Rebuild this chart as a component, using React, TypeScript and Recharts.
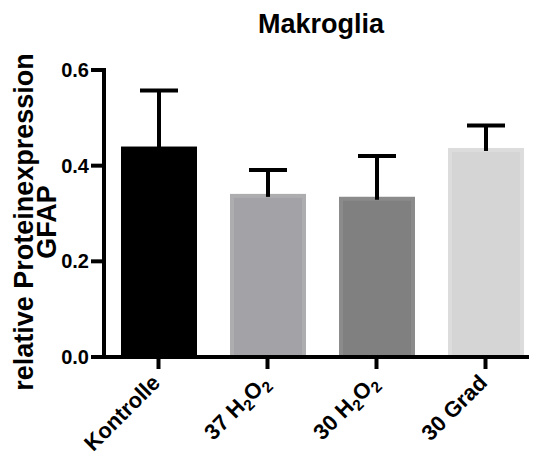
import React from 'react';
import { BarChart, Bar, XAxis, YAxis, Label } from 'recharts';

const FONT = '"Liberation Sans", Arial, Helvetica, sans-serif';

const categories = ['Kontrolle', '37 H₂O₂', '30 H₂O₂', '30 Grad'];
const means = [0.44, 0.341, 0.335, 0.437];
const sem = [0.117, 0.05, 0.085, 0.047];
const yTicks = [0, 0.2, 0.4, 0.6];

const fills = ['#000000', '#a3a3a7', '#808080', '#d5d5d5'];
const edges = ['#000000', '#adadb0', '#8b8b8b', '#dcdcdc'];

const data = categories.map((name, i) => ({ name, mean: means[i], sem: sem[i] }));

const SUBS: { [k: string]: string } = { '₂': '2' };

// splits "37 H₂O₂" into normal / subscript runs
const splitSub = (s: string) => {
  const runs: { t: string; sub: boolean }[] = [];
  for (const ch of s) {
    const sub = ch in SUBS;
    const t = sub ? SUBS[ch] : ch;
    const last = runs[runs.length - 1];
    if (last && last.sub === sub) last.t += t;
    else runs.push({ t, sub });
  }
  return runs;
};

const XTick = (props: any) => {
  const { x, y, payload } = props;
  const runs = splitSub(payload.value);
  let shift = 0;
  return (
    <g transform={`translate(${x + 3},${y + 13})`}>
      <text textAnchor="end" transform="rotate(-45)" fontFamily={FONT} fontWeight="bold" fontSize={22} fill="#000">
        {runs.map((r, i) => {
          const target = r.sub ? 5 : 0;
          const dy = target - shift;
          shift = target;
          return (
            <tspan key={i} dy={dy} fontSize={r.sub ? 15.5 : 22}>
              {r.t}
            </tspan>
          );
        })}
      </text>
    </g>
  );
};

const YLabel = () => (
  <g fontFamily={FONT} fontWeight="bold" fontSize={27} fill="#000">
    <text transform="translate(33,222) rotate(-90)" textAnchor="middle">relative Proteinexpression</text>
    <text transform="translate(56,222) rotate(-90)" textAnchor="middle">GFAP</text>
  </g>
);

const BarWithError = (props: any) => {
  const { x, y, width, height, index, payload } = props;
  const sw = 4;
  const perUnit = height / payload.mean;
  const errTop = y - payload.sem * perUnit;
  const cx = x + width / 2;
  return (
    <g>
      <rect
        x={x + sw / 2}
        y={y + sw / 2}
        width={width - sw}
        height={height - sw / 2}
        fill={fills[index]}
        stroke={edges[index]}
        strokeWidth={sw}
      />
      <line x1={cx} x2={cx} y1={errTop} y2={y + 3} stroke="#000" strokeWidth={4} />
      <line x1={cx - 19} x2={cx + 19} y1={errTop} y2={errTop} stroke="#000" strokeWidth={4} />
    </g>
  );
};

// axis strokes are forced through css, the attribute alone did not take
const axisCss = `
.recharts-cartesian-axis-line { stroke: #000 !important; stroke-width: 4px !important; stroke-linecap: square; }
.recharts-cartesian-axis-tick-line { stroke: #000 !important; stroke-width: 4px !important; }
`;

export default function App() {
  return (
    <div style={{ position: 'absolute', left: 0, top: 0, width: 534, height: 452, background: '#fff' }}>
      <style>{axisCss}</style>
      <svg width={534} height={60} style={{ position: 'absolute', left: 0, top: 0 }}>
        <text x={321} y={33} textAnchor="middle" fontFamily={FONT} fontWeight="bold" fontSize={27} fill="#000">
          Makroglia
        </text>
      </svg>
      <BarChart width={534} height={452} data={data} margin={{ top: 70, right: 7, bottom: 0, left: 0 }}>
        <XAxis
          dataKey="name"
          height={95}
          padding={{ left: 0, right: -13 }}
          stroke="#000"
          axisLine={{ stroke: '#000', strokeWidth: 4 }}
          tickLine={{ stroke: '#000', strokeWidth: 4 }}
          tickSize={12}
          tick={<XTick />}
          interval={0}
        />
        <YAxis
          width={104}
          domain={[0, 0.6]}
          ticks={yTicks}
          tickFormatter={(v: number) => v.toFixed(1)}
          stroke="#000"
          axisLine={{ stroke: '#000', strokeWidth: 4 }}
          tickLine={{ stroke: '#000', strokeWidth: 4 }}
          tickSize={13}
          tickMargin={2}
          tick={{ fill: '#000', stroke: 'none', fontSize: 20, fontWeight: 'bold', fontFamily: FONT }}
        >
          <Label content={<YLabel />} />
        </YAxis>
        <Bar dataKey="mean" barSize={76} shape={<BarWithError />} isAnimationActive={false} />
      </BarChart>
    </div>
  );
}
